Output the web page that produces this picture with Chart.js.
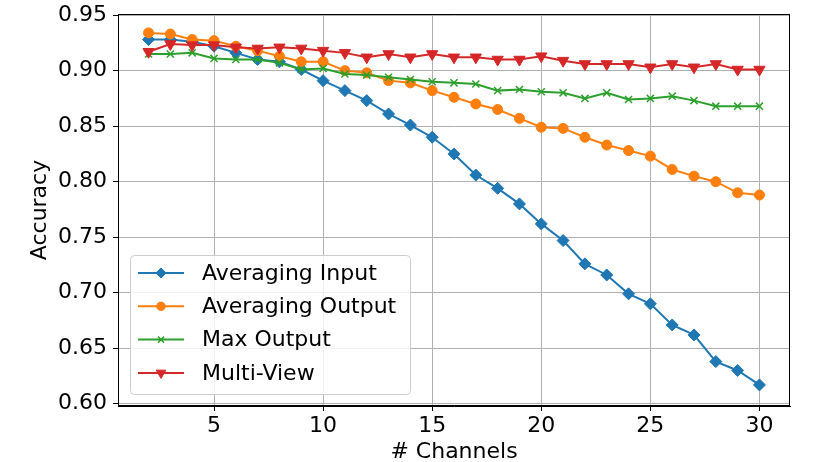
<!DOCTYPE html>
<html>
<head>
<meta charset="utf-8">
<script src="https://cdn.jsdelivr.net/npm/chart.js@4/dist/chart.umd.min.js"></script>
<style>
  body { margin: 0; background: #fff; }
</style>
</head>
<body>
<canvas id="myChart" width="819" height="462"></canvas>
<script>
// channels on the x axis
var channels = [2, 3, 4, 5, 6, 7, 8, 9, 10, 11, 12, 13, 14, 15, 16, 17, 18, 19, 20, 21, 22, 23, 24, 25, 26, 27, 28, 29, 30];

var avgInput = [0.928, 0.928, 0.926, 0.922, 0.916, 0.910, 0.908, 0.901, 0.891, 0.882, 0.873, 0.861, 0.851, 0.840, 0.825,
    0.806, 0.794, 0.780, 0.762, 0.747, 0.726, 0.716, 0.699, 0.690, 0.671, 0.662, 0.638, 0.630, 0.617];
var avgOutput = [0.934, 0.933, 0.928, 0.927, 0.922, 0.918, 0.913, 0.908, 0.908, 0.900, 0.898, 0.891, 0.889, 0.882, 0.876,
    0.870, 0.865, 0.857, 0.849, 0.848, 0.840, 0.833, 0.828, 0.823, 0.811, 0.805, 0.800, 0.790, 0.788];
var maxOutput = [0.915, 0.915, 0.916, 0.911, 0.910, 0.910, 0.907, 0.901, 0.902, 0.897, 0.896, 0.894, 0.892, 0.890, 0.889,
    0.888, 0.882, 0.883, 0.881, 0.880, 0.875, 0.880, 0.874, 0.875, 0.877, 0.873, 0.868, 0.868, 0.868];
var multiView = [0.917, 0.924, 0.923, 0.923, 0.921, 0.920, 0.921, 0.920, 0.918, 0.916, 0.912, 0.915, 0.912, 0.915, 0.912,
    0.912, 0.910, 0.910, 0.913, 0.909, 0.906, 0.906, 0.906, 0.903, 0.906, 0.903, 0.906, 0.901, 0.901];

var xTicks = [5, 10, 15, 20, 25, 30];
var yTicks = [0.60, 0.65, 0.70, 0.75, 0.80, 0.85, 0.90, 0.95];

var labels = ["Averaging Input", "Averaging Output", "Max Output", "Multi-View"];

function pts(arr) {
    return arr.map((v, i) => ({ x: channels[i], y: v }));
}

Chart.defaults.font.family = "'DejaVu Sans'";
Chart.defaults.color = "#000";

var series = [
    { label: labels[0], data: avgInput, color: "#1f77b4", style: "rectRot", radius: 6, rot: 0, bw: 1, order: 3 },
    { label: labels[1], data: avgOutput, color: "#ff7f0e", style: "circle", radius: 5, rot: 0, bw: 1, order: 2 },
    { label: labels[2], data: maxOutput, color: "#2ca02c", style: "crossRot", radius: 5, rot: 0, bw: 1.5, order: 1 },
    { label: labels[3], data: multiView, color: "#d62728", style: "triangle", radius: 6.5, rot: 180, bw: 1, order: 0 }
];

var framePlugin = {
    id: "frame",
    afterDatasetsDraw(chart) {
        var a = chart.chartArea, ctx = chart.ctx;
        ctx.save();
        ctx.strokeStyle = "#000";
        ctx.lineWidth = 1;
        ctx.strokeRect(a.left + 0.5, a.top + 0.5, a.right - a.left - 1, a.bottom - a.top - 1);
        ctx.restore();
    }
};

var legendPlugin = {
    id: "innerLegend",
    afterDraw(chart) {
        var a = chart.chartArea, ctx = chart.ctx;
        var x0 = a.left + 12, y1 = a.bottom - 12;
        var w = 280, h = 139, y0 = y1 - h;
        ctx.save();
        ctx.beginPath();
        ctx.roundRect(x0 + 0.5, y0 + 0.5, w, h, 4);
        ctx.fillStyle = "rgba(255,255,255,0.8)";
        ctx.fill();
        ctx.strokeStyle = "#cccccc";
        ctx.lineWidth = 1;
        ctx.stroke();
        series.forEach((s, i) => {
            var yy = y0 + 18 + i * 33.3;
            ctx.strokeStyle = s.color;
            ctx.fillStyle = s.color;
            ctx.lineWidth = 2;
            ctx.beginPath();
            ctx.moveTo(x0 + 8, yy);
            ctx.lineTo(x0 + 54, yy);
            ctx.stroke();
            ctx.lineWidth = s.bw;
            Chart.helpers.drawPoint(ctx, { pointStyle: s.style, radius: s.radius * 0.85, rotation: s.rot, borderWidth: s.bw }, x0 + 31, yy);
            ctx.fillStyle = "#000";
            ctx.font = "22px 'DejaVu Sans'";
            ctx.textBaseline = "middle";
            ctx.fillText(s.label, x0 + 72, yy + 1);
        });
        ctx.restore();
    }
};

var ctx = document.getElementById("myChart").getContext("2d");
var chart = new Chart(ctx, {
    type: "line",
    data: {
        datasets: series.map(s => ({
            label: s.label,
            data: pts(s.data),
            borderColor: s.color,
            backgroundColor: s.color,
            borderWidth: 2,
            pointStyle: s.style,
            pointRadius: s.radius,
            pointRotation: s.rot,
            pointBorderWidth: s.bw,
            pointBorderColor: s.color,
            pointBackgroundColor: s.color,
            fill: false,
            tension: 0,
            order: s.order
        }))
    },
    options: {
        responsive: false,
        animation: false,
        layout: { padding: { top: 14, right: 29, left: 0, bottom: 0 } },
        plugins: {
            legend: { display: false },
            tooltip: { enabled: false }
        },
        scales: {
            x: {
                type: "linear",
                min: 0.6,
                max: 31.4,
                afterBuildTicks: axis => { axis.ticks = xTicks.map(v => ({ value: v })); },
                afterFit: axis => { axis.height = 56; axis.paddingLeft = 0; axis.paddingRight = 0; },
                ticks: { font: { size: 22 }, padding: 2, maxRotation: 0, callback: v => String(v) },
                grid: { color: "#b0b0b0", tickColor: "#000", tickLength: 5, lineWidth: 1 },
                border: { color: "#000", width: 1 },
                title: { display: true, text: "# Channels", font: { size: 22 }, padding: { top: 0, bottom: -3 } }
            },
            y: {
                type: "linear",
                min: 0.598,
                max: 0.951,
                afterBuildTicks: axis => { axis.ticks = yTicks.map(v => ({ value: v })); },
                afterFit: axis => { axis.width = 118; axis.paddingTop = 0; axis.paddingBottom = 0; },
                ticks: { font: { size: 22 }, padding: 6, callback: v => v.toFixed(2) },
                grid: { color: "#b0b0b0", tickColor: "#000", tickLength: 5, lineWidth: 1 },
                border: { color: "#000", width: 1 },
                title: { display: true, text: "Accuracy", font: { size: 22 }, padding: { top: 27, bottom: 0 } }
            }
        }
    },
    plugins: [framePlugin, legendPlugin]
});
</script>
</body>
</html>
